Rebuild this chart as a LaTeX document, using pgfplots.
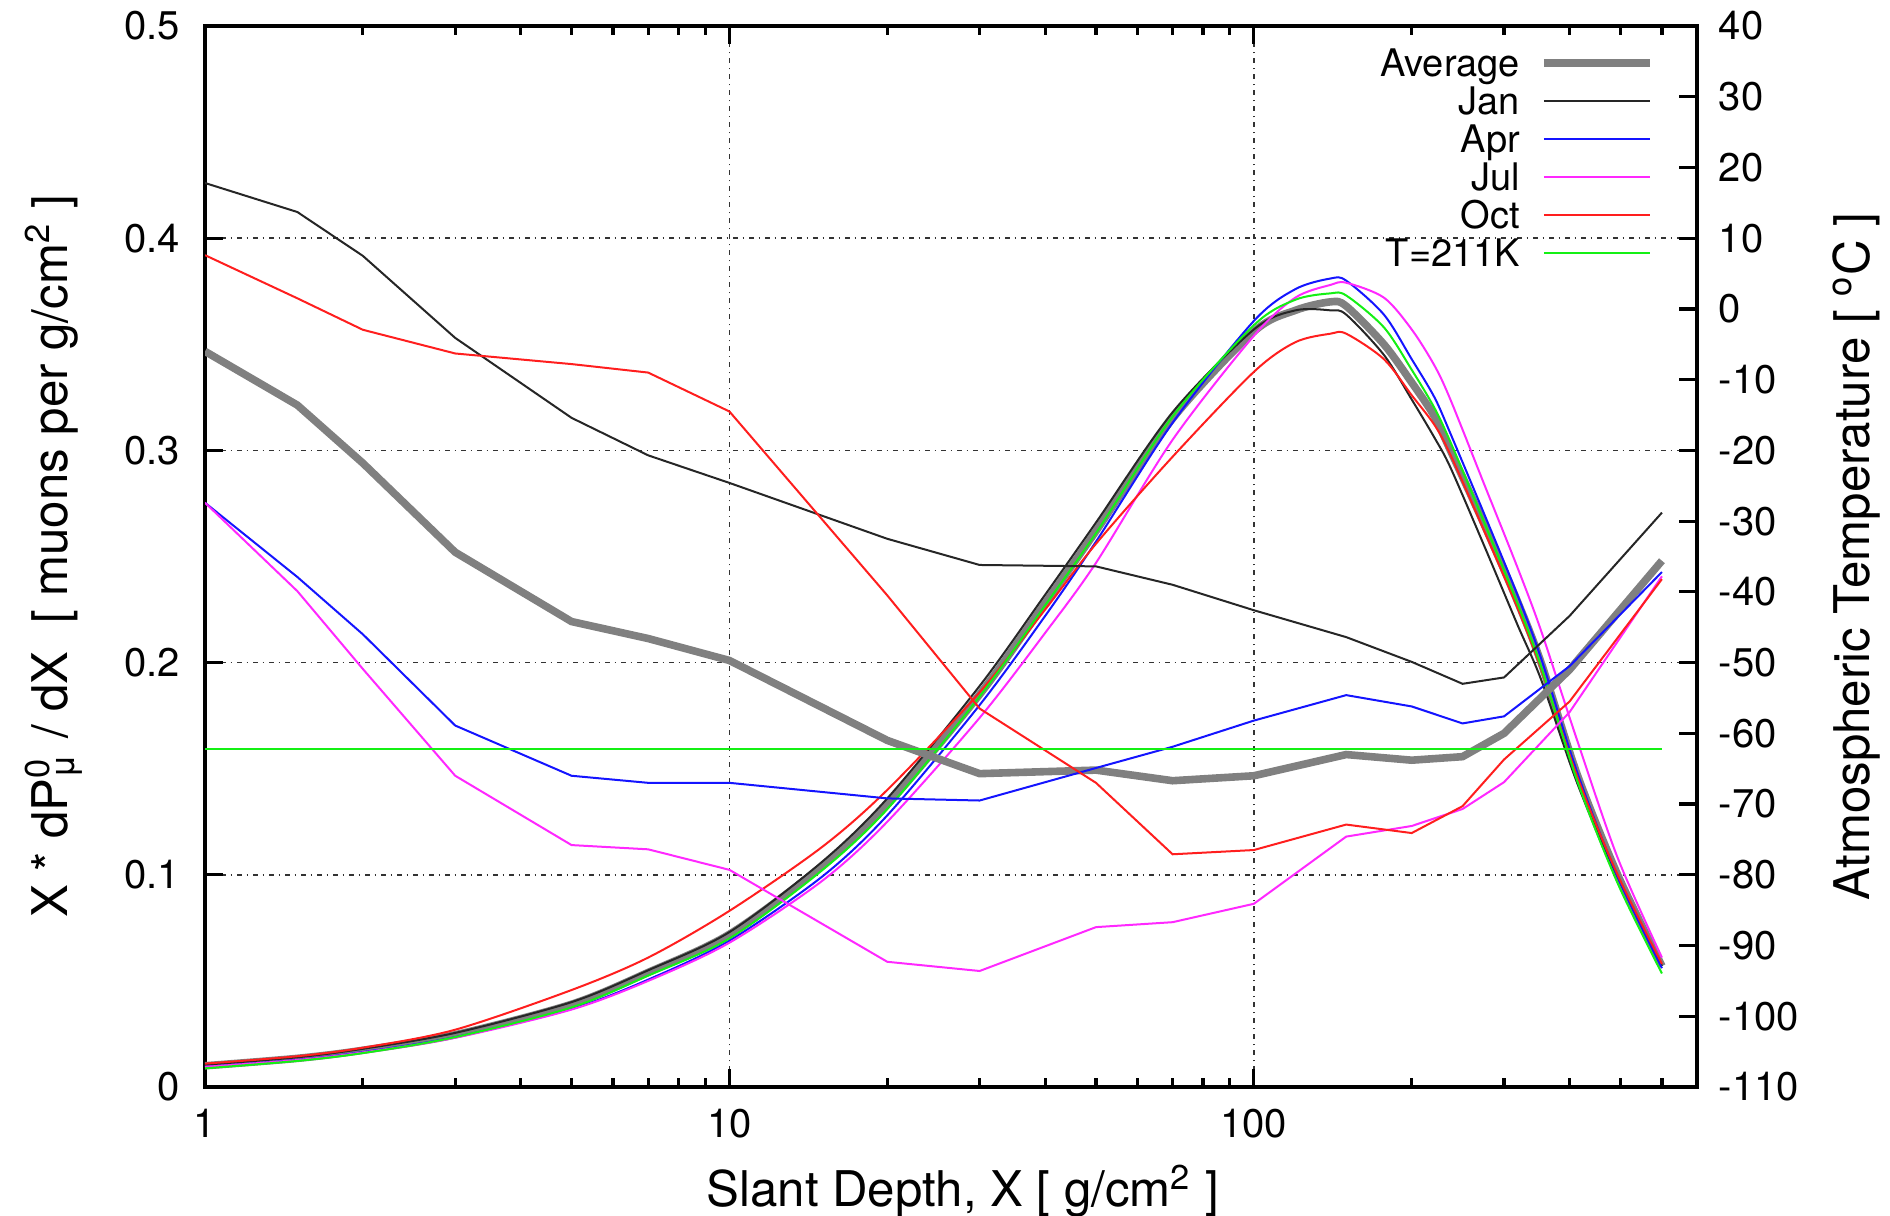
\documentclass[border=0pt]{standalone}
\usepackage{fontspec}
\setmainfont{TeX Gyre Heros}
\usepackage{pgfplots}
\pgfplotsset{compat=1.18}
\usepackage{pgfplotstable}

\definecolor{cmag}{RGB}{255,40,255}
\definecolor{cred}{RGB}{255,30,30}
\definecolor{cgrn}{RGB}{20,240,20}
\definecolor{cblu}{RGB}{20,20,255}
\definecolor{cgry}{RGB}{128,128,128}

\pgfplotstableread{
X    avg    jan    apr    jul    oct    grn
1    0.0100 0.0105 0.0095 0.0095 0.0110 0.0088
1.5  0.0135 0.0140 0.0128 0.0127 0.0145 0.0123
2    0.0173 0.0180 0.0165 0.0163 0.0185 0.0160
3    0.0246 0.0255 0.0235 0.0232 0.0270 0.0235
5    0.0390 0.0400 0.0368 0.0365 0.0457 0.0375
7    0.0540 0.0550 0.0506 0.0500 0.0610 0.0525
10   0.0720 0.0730 0.0690 0.0680 0.0830 0.0700
15   0.1040 0.1060 0.0990 0.0970 0.1130 0.1020
20   0.1330 0.1360 0.1280 0.1250 0.1400 0.1310
30   0.1850 0.1890 0.1800 0.1740 0.1860 0.1840
40   0.2280 0.2320 0.2220 0.2140 0.2250 0.2270
50   0.2620 0.2660 0.2570 0.2470 0.2560 0.2610
70   0.3150 0.3180 0.3130 0.3050 0.2970 0.3160
100  0.3560 0.3570 0.3610 0.3540 0.3370 0.3590
120  0.3660 0.3660 0.3760 0.3720 0.3510 0.3710
140  0.3700 0.3660 0.3810 0.3780 0.3550 0.3740
150  0.3680 0.3640 0.3800 0.3790 0.3550 0.3730
177  0.3500 0.3450 0.3640 0.3720 0.3430 0.3580
200  0.3320 0.3240 0.3430 0.3570 0.3260 0.3380
221  0.3160 0.3060 0.3250 0.3400 0.3120 0.3200
237  0.3000 0.2920 0.3080 0.3240 0.2980 0.3040
275  0.2650 0.2550 0.2700 0.2840 0.2620 0.2660
318  0.2290 0.2180 0.2320 0.2450 0.2260 0.2280
353  0.2000 0.1920 0.2020 0.2150 0.1970 0.1980
414  0.1470 0.1430 0.1480 0.1630 0.1460 0.1440
494  0.1000 0.0990 0.0990 0.1080 0.1000 0.0960
600  0.0570 0.0570 0.0560 0.0610 0.0580 0.0535
}\dpdata

\pgfplotstableread{
X    avg    jan    apr    jul    oct    grn
1    -6.0   17.8   -27.4  -27.4  7.6    -62.15
1.5  -13.6  13.7   -37.9  -39.9  1.5    -62.15
2    -21.8  7.5    -46.0  -50.9  -2.95  -62.15
3    -34.4  -4.1   -58.9  -66.0  -6.3   -62.15
5    -44.2  -15.4  -66.0  -75.8  -7.8   -62.15
7    -46.6  -20.7  -67.0  -76.4  -9.0   -62.15
10   -49.7  -24.6  -67.0  -79.3  -14.5  -62.15
20   -61.0  -32.5  -69.2  -92.3  -40.5  -62.15
30   -65.7  -36.2  -69.5  -93.6  -56.5  -62.15
50   -65.2  -36.4  -64.9  -87.4  -67.0  -62.15
70   -66.7  -39.0  -61.9  -86.7  -77.1  -62.15
100  -66.0  -42.6  -58.2  -84.1  -76.5  -62.15
150  -63.0  -46.4  -54.6  -74.6  -72.9  -62.15
200  -63.8  -49.9  -56.2  -73.1  -74.1  -62.15
250  -63.3  -53.0  -58.6  -70.7  -70.3  -62.15
300  -60.0  -52.1  -57.6  -66.9  -63.7  -62.15
400  -51.0  -43.4  -50.5  -57.0  -55.5  -62.15
600  -35.6  -28.8  -37.2  -37.8  -38.2  -62.15
}\tdata

\pgfplotsset{
  thinline/.style={line width=0.5pt},
}

\begin{document}
\begin{tikzpicture}
\begin{axis}[
  scale only axis, width=373pt, height=265.25pt,
  at={(0,0)}, anchor=south west,
  xmode=log, xmin=1, xmax=700,
  axis line style={line width=0.8pt},
  every tick/.style={black, line width=0.8pt},
  major tick length=4.6pt, minor tick length=2.3pt,
  tick align=inside,
  tick label style={font=\fontsize{10}{12}\selectfont},
  label style={font=\fontsize{12.3}{14}\selectfont},
  /pgf/number format/assume math mode=true,
  ymin=0, ymax=0.5, ytick={0,0.1,0.2,0.3,0.4,0.5},
  yticklabels={0,0.1,0.2,0.3,0.4,0.5},
  ytick pos=left,
  xtick={1,10,100}, xticklabels={1,10,100},
  minor xtick={2,3,4,5,6,7,8,9,20,30,40,50,60,70,80,90,200,300,400,500,600},
  xtick pos=both,
  xticklabel style={yshift=-2pt},
  yticklabel style={xshift=-2.7pt},
  xmajorgrids, ymajorgrids,
  major grid style={black!80, line width=0.4pt, dash pattern=on 1.2pt off 1.2pt on 0.4pt off 1.2pt},
  xlabel={Slant Depth, X [ g/cm\textsuperscript{2} ]},
  xlabel style={at={(axis description cs:0.5,0)}, anchor=center, yshift=-26pt, xshift=3pt},
  ylabel={X * dP\makebox[0pt][l]{\textsuperscript{0}}\textsubscript{μ} / dX \ [ muons per g/cm\textsuperscript{2} ]},
  ylabel style={at={(axis description cs:-0.1012,0.5)}, anchor=center},
  legend cell align=right,
  legend plot pos=right,
  legend image code/.code={\path[draw=none] (0pt,1.3pt) -- (3.5pt,1.3pt);\draw[#1] (3.5pt,1.3pt) -- (30pt,1.3pt);},
  legend style={at={(rel axis cs:0.971,0.978)}, anchor=north east,
    draw=none, fill=none, inner sep=0pt, outer sep=0pt,
    row sep=0pt, column sep=2.5pt,
    nodes={inner sep=0pt, text height=6.8pt, text depth=2.7pt,
      font=\fontsize{9.5}{11}\selectfont}},
]
\addplot[cgry, line width=1.9pt, smooth] table[x=X, y=avg]{\dpdata};
\addlegendentry{Average}
\addplot[black!85, thinline, smooth] table[x=X, y=jan]{\dpdata};
\addlegendentry{Jan}
\addplot[cblu, thinline, smooth] table[x=X, y=apr]{\dpdata};
\addlegendentry{Apr}
\addplot[cmag, thinline, smooth] table[x=X, y=jul]{\dpdata};
\addlegendentry{Jul}
\addplot[cred, thinline, smooth] table[x=X, y=oct]{\dpdata};
\addlegendentry{Oct}
\addplot[cgrn, thinline, smooth] table[x=X, y=grn]{\dpdata};
\addlegendentry{T=211K}
\end{axis}

\begin{axis}[
  scale only axis, width=373pt, height=265.25pt,
  at={(0,0)}, anchor=south west,
  xmode=log, xmin=1, xmax=700,
  axis line style={line width=0.8pt},
  every tick/.style={black, line width=0.8pt},
  major tick length=4.6pt, minor tick length=2.3pt,
  tick align=inside,
  tick label style={font=\fontsize{10}{12}\selectfont},
  label style={font=\fontsize{12.3}{14}\selectfont},
  /pgf/number format/assume math mode=true,
  ymin=-110, ymax=40,
  ytick={-110,-100,-90,-80,-70,-60,-50,-40,-30,-20,-10,0,10,20,30,40},
  yticklabels={-110,-100,-90,-80,-70,-60,-50,-40,-30,-20,-10,0,10,20,30,40},
  axis y line*=right, axis x line=none,
  yticklabel style={xshift=1.9pt},
  ylabel={Atmospheric Temperature [ \textsuperscript{o}C ]},
  ylabel style={at={(axis description cs:1.1066,0.5)}, anchor=center},
]
\addplot[cgry, line width=1.9pt] table[x=X, y=avg]{\tdata};
\addplot[black!85, thinline] table[x=X, y=jan]{\tdata};
\addplot[cblu, thinline] table[x=X, y=apr]{\tdata};
\addplot[cmag, thinline] table[x=X, y=jul]{\tdata};
\addplot[cred, thinline] table[x=X, y=oct]{\tdata};
\addplot[cgrn, thinline] table[x=X, y=grn]{\tdata};
\end{axis}
\pgfresetboundingbox
\path (-51.25pt,-32.25pt) rectangle (421.25pt,271.75pt);
\end{tikzpicture}
\end{document}
